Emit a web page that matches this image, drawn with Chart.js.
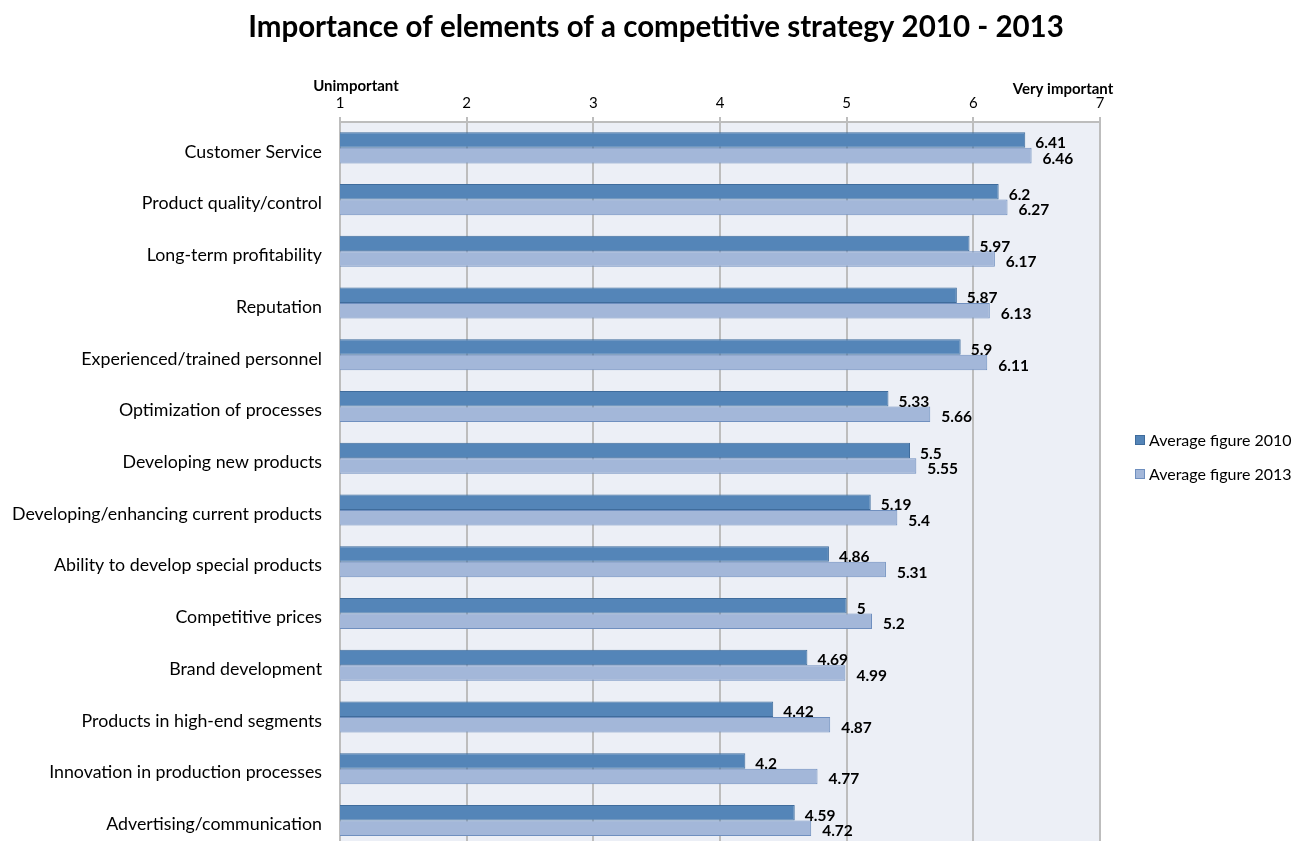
<!DOCTYPE html>
<html>
<head>
	<title>Importance of elements of a competitive strategy</title>
	<meta charset="utf-8">
	<script src="https://cdn.jsdelivr.net/npm/chart.js@4.4.1/dist/chart.umd.min.js"></script>
	<style>
		html, body { margin: 0; padding: 0; background: #ffffff; overflow: hidden; }
		#contenedor { width: 1302px; height: 875px; position: relative; }
	</style>
</head>
<body>
	<div id="contenedor">
		<canvas id="barras"></canvas>
	</div>

	<script type="text/javascript">
		// datos del grafico
		var categorias = [
			"Customer Service",
			"Product quality/control",
			"Long-term profitability",
			"Reputation",
			"Experienced/trained personnel",
			"Optimization of processes",
			"Developing new products",
			"Developing/enhancing current products",
			"Ability to develop special products",
			"Competitive prices",
			"Brand development",
			"Products in high-end segments",
			"Innovation in production processes",
			"Advertising/communication"
		];
		var promedio2010 = [6.41, 6.2, 5.97, 5.87, 5.9, 5.33, 5.5, 5.19, 4.86, 5, 4.69, 4.42, 4.2, 4.59];
		var promedio2013 = [6.46, 6.27, 6.17, 6.13, 6.11, 5.66, 5.55, 5.4, 5.31, 5.2, 4.99, 4.87, 4.77, 4.72];
		var nombresSeries = ["Average figure 2010", "Average figure 2013"];
		var escalaMin = 1;
		var escalaMax = 7;
		var titulo = "Importance of elements of a competitive strategy 2010 - 2013";

		var fuente = "Lato, 'Open Sans', sans-serif";
		var colores = ["#5485b8", "#a3b7d9"];
		var bordes = ["#3f6c9c", "#6f8fbf"];

		// fondo del area del grafico, titulo, textos del eje y leyenda
		var decoracion = {
			id: "decoracion",
			beforeDraw: function (chart) {
				var ctx = chart.ctx;
				var a = chart.chartArea;
				ctx.save();
				ctx.fillStyle = "#eceff6";
				ctx.fillRect(a.left, a.top, a.right - a.left, a.bottom - a.top);
				ctx.restore();
			},
			afterDraw: function (chart) {
				var ctx = chart.ctx;
				ctx.save();
				ctx.fillStyle = "#000000";
				ctx.textBaseline = "middle";

				ctx.font = "bold 29.5px " + fuente;
				ctx.textAlign = "center";
				ctx.fillText(titulo, 656, 27);

				ctx.font = "bold 15px " + fuente;
				ctx.fillText("Unimportant", 356, 86);
				ctx.fillText("Very important", 1063, 89);

				// leyenda
				ctx.textAlign = "left";
				ctx.font = "16px " + fuente;
				for (var i = 0; i < nombresSeries.length; i++) {
					var y = 440 + i * 34;
					ctx.fillStyle = colores[i];
					ctx.fillRect(1135, y - 5, 10, 10);
					ctx.strokeStyle = bordes[i];
					ctx.lineWidth = 1;
					ctx.strokeRect(1135.5, y - 4.5, 9, 9);
					ctx.fillStyle = "#000000";
					ctx.fillText(nombresSeries[i], 1149, y + 1);
				}

				// etiquetas de valores al final de cada barra
				ctx.font = "bold 15.5px " + fuente;
				chart.data.datasets.forEach(function (ds, d) {
					var meta = chart.getDatasetMeta(d);
					meta.data.forEach(function (barra, j) {
						ctx.fillText(String(ds.data[j]), barra.x + (d === 0 ? 10 : 11), barra.y + 3);
					});
				});
				ctx.restore();
			}
		};

		var canvas = document.getElementById("barras").getContext("2d");
		window.bar = new Chart(canvas, {
			type: "bar",
			data: {
				labels: categorias,
				datasets: [{
					label: nombresSeries[0],
					data: promedio2010,
					backgroundColor: colores[0],
					borderColor: bordes[0],
					borderWidth: 1,
					borderSkipped: "start"
				},
				{
					label: nombresSeries[1],
					data: promedio2013,
					backgroundColor: colores[1],
					borderColor: bordes[1],
					borderWidth: 1,
					borderSkipped: "start"
				}]
			},
			options: {
				indexAxis: "y",
				responsive: true,
				maintainAspectRatio: false,
				animation: false,
				layout: {
					padding: { left: 8, right: 202, top: 82, bottom: 0 }
				},
				plugins: {
					legend: { display: false },
					title: { display: false },
					tooltip: { enabled: false }
				},
				datasets: {
					bar: { categoryPercentage: 0.6, barPercentage: 1.0 }
				},
				scales: {
					x: {
						position: "top",
						min: escalaMin,
						max: escalaMax,
						afterFit: function (s) { s.height = 40; },
						ticks: {
							stepSize: 1,
							color: "#000000",
							padding: 5,
							font: { family: fuente, size: 15 }
						},
						grid: {
							color: "#bdbdbd",
							lineWidth: 2,
							tickLength: 5
						},
						border: { color: "#bdbdbd", width: 2 }
					},
					y: {
						afterFit: function (s) { s.width = 332; },
						ticks: {
							color: "#000000",
							padding: 18,
							labelOffset: 4,
							font: { family: fuente, size: 17.8 }
						},
						grid: { display: false, drawTicks: false },
						border: { color: "#bdbdbd", width: 2 }
					}
				}
			},
			plugins: [decoracion]
		});
	</script>
</body>
</html>
